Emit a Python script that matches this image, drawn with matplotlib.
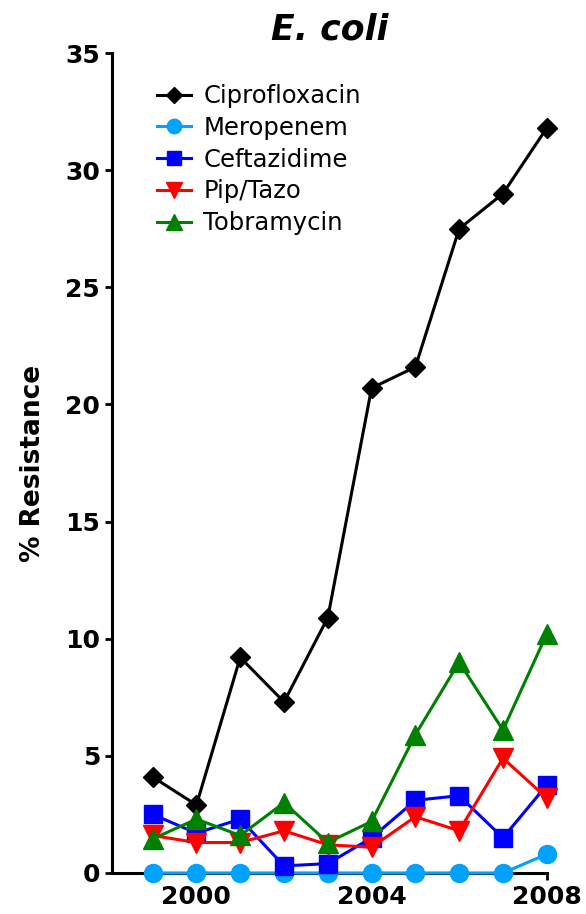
import matplotlib.pyplot as plt
import numpy as np

years = [1999, 2000, 2001, 2002, 2003, 2004, 2005, 2006, 2007, 2008]
cipro = [4.1, 2.9, 9.2, 7.3, 10.9, 20.7, 21.6, 27.5, 29.0, 31.8]
mero = [0, 0, 0, 0, 0, 0, 0, 0, 0, 0.8]
cefta = [2.5, 1.7, 2.3, 0.3, 0.4, 1.5, 3.1, 3.3, 1.5, 3.75]
piptazo = [1.6, 1.3, 1.3, 1.8, 1.2, 1.1, 2.4, 1.8, 4.9, 3.2]
tobra = [1.45, 2.3, 1.6, 3.0, 1.3, 2.2, 5.9, 9.0, 6.1, 10.2]

series = [
    ("Ciprofloxacin", cipro, "black", "D", 10),
    ("Meropenem", mero, "#00a2ff", "o", 13),
    ("Ceftazidime", cefta, "blue", "s", 13),
    ("Pip/Tazo", piptazo, "red", "v", 14),
    ("Tobramycin", tobra, "green", "^", 14),
]

fig = plt.figure(figsize=(5.86, 9.14), dpi=100)
ax = fig.add_axes([0.191, 0.0449, 0.742, 0.897])

for name, vals, col, mk, ms in series:
    ax.plot(years, vals, color=col, marker=mk, markersize=ms, lw=2.2,
            label=name, clip_on=False, zorder=3)

ax.set_xlim(1998.07, 2008)
ax.set_ylim(0, 35)
ax.set_yticks(np.arange(0, 36, 5))
ax.set_xticks([2000, 2004, 2008])
ax.set_xticks(years, minor=True)
for s in ["top", "right"]:
    ax.spines[s].set_visible(False)
for s in ["left", "bottom"]:
    ax.spines[s].set_linewidth(2.2)
ax.tick_params(axis="both", which="both", length=5, width=2, labelsize=18)
for lab in ax.get_xticklabels() + ax.get_yticklabels():
    lab.set_fontweight("bold")

ax.set_ylabel("% Resistance", fontsize=19, fontweight="bold", labelpad=14)
ax.set_title("E. coli", fontsize=25, fontweight="bold", style="italic", pad=10)

ax.legend(loc="upper left", bbox_to_anchor=(0.07, 0.98), frameon=False,
          fontsize=17.5, handlelength=1.4, handletextpad=0.5,
          labelspacing=0.32, borderaxespad=0.2, markerscale=0.8)

fig.savefig("out.png", dpi=100)
